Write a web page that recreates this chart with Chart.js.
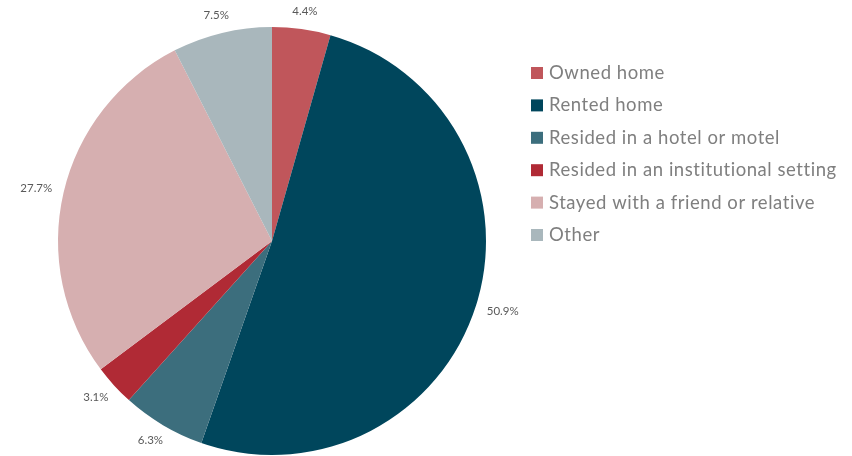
<!DOCTYPE html>
<html>
<head>
<meta charset="utf-8">
<script src="https://cdn.jsdelivr.net/npm/chart.js@4.4.1/dist/chart.umd.min.js"></script>
<style>
  html, body { margin: 0; padding: 0; background: #ffffff; }
  #wrap { width: 852px; height: 456px; }
</style>
</head>
<body>
<div id="wrap"><canvas id="grafico"></canvas></div>
<script>
// categories and shares (percent)
const categorias = [
    "Owned home",
    "Rented home",
    "Resided in a hotel or motel",
    "Resided in an institutional setting",
    "Stayed with a friend or relative",
    "Other"
];
const porcentajes = [4.4, 50.9, 6.3, 3.1, 27.7, 7.5];
const colores = ["#c0565b", "#00465c", "#3c6e7d", "#b02a35", "#d6afb0", "#a9b7bc"];

const FUENTE = "Lato, 'Open Sans', sans-serif";

// percentage labels placed just outside each slice
const etiquetasFuera = {
    id: "etiquetasFuera",
    afterDatasetsDraw(chart) {
        const ctx = chart.ctx;
        const meta = chart.getDatasetMeta(0);
        ctx.save();
        ctx.font = "11.5px " + FUENTE;
        ctx.fillStyle = "#595959";
        ctx.textAlign = "center";
        ctx.textBaseline = "middle";
        meta.data.forEach((arc, i) => {
            const texto = porcentajes[i].toFixed(1) + "%";
            const ang = (arc.startAngle + arc.endAngle) / 2;
            const dx = Math.cos(ang), dy = Math.sin(ang);
            const w = ctx.measureText(texto).width, h = 12;
            const r = arc.outerRadius + 12;
            const x = arc.x + dx * r + dx * w / 2;
            const y = arc.y + dy * r + dy * h / 2;
            ctx.fillText(texto, x, y);
        });
        ctx.restore();
    }
};

// legend on the right side
const leyenda = {
    id: "leyenda",
    afterDraw(chart) {
        const ctx = chart.ctx;
        ctx.save();
        ctx.font = "18.5px " + FUENTE;
        ctx.letterSpacing = "0.55px";
        ctx.textBaseline = "middle";
        categorias.forEach((nombre, i) => {
            const y = 73 + i * 32.4;
            ctx.fillStyle = colores[i];
            ctx.fillRect(531, y - 6, 12, 12);
            ctx.fillStyle = "#7f7f7f";
            ctx.fillText(nombre, 549, y);
        });
        ctx.restore();
    }
};

const ctx = document.getElementById("grafico");
const config = {
    type: "pie",
    data: {
        labels: categorias,
        datasets: [{
            data: porcentajes,
            backgroundColor: colores,
            borderWidth: 0
        }]
    },
    options: {
        responsive: true,
        maintainAspectRatio: false,
        animation: false,
        layout: {
            padding: { top: 27, bottom: 1, left: 58, right: 366 }
        },
        plugins: {
            legend: { display: false },
            tooltip: { enabled: false }
        }
    },
    plugins: [etiquetasFuera, leyenda]
};
const grafico = new Chart(ctx, config);
</script>
</body>
</html>
